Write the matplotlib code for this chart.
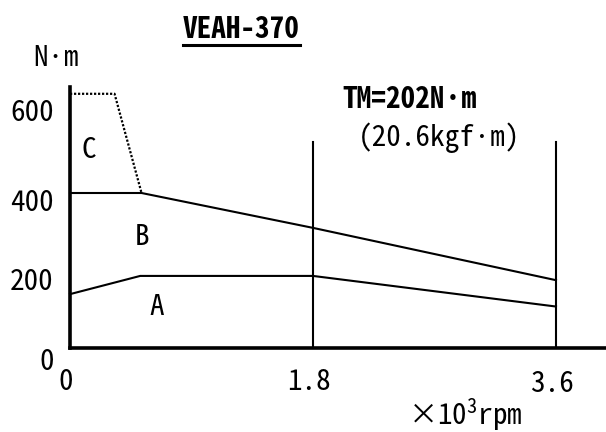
import matplotlib
matplotlib.use("Agg")
import matplotlib.pyplot as plt

# ---- data ----
rpm_A = [0, 0.52, 1.8, 3.6]
torque_A = [139, 186, 186, 107]
rpm_B = [0, 0.53, 1.8, 3.6]
torque_B = [400, 400, 310, 175]
rpm_C = [0, 0.33, 0.53]
torque_C = [656, 656, 400]
limit_rpm = [1.8, 3.6]
limit_top = 532
xtick_labels = ["0", "1.8", "3.6"]
ytick_labels = ["0", "200", "400", "600"]
title = "VEAH-370"
ylabel = "N·m"
xlabel = r"×10$^{3}$rpm"
tm_text = "TM=202N·m"
tm_sub = "(20.6kgf·m)"
region_labels = ["A", "B", "C"]

FONT = 'Noto Sans Mono CJK JP'
plt.rcParams['font.family'] = [FONT, 'DejaVu Sans']
plt.rcParams['mathtext.fontset'] = 'custom'
plt.rcParams['mathtext.rm'] = FONT
plt.rcParams['mathtext.it'] = FONT
plt.rcParams['mathtext.default'] = 'regular'

W, H = 606, 432
fig = plt.figure(figsize=(W / 100, H / 100), dpi=100)
px0, py0 = 70, 348          # axis origin in pixels (from top)
sx, sy = 135.0, 0.3875      # px per unit
ax = fig.add_axes([px0 / W, (H - py0) / H, (W - px0) / W, (py0 - 87) / H])
ax.set_xlim(0, (W - px0) / sx)
ax.set_ylim(0, (py0 - 87) / sy)
for s in ["top", "right"]:
    ax.spines[s].set_visible(False)
for s in ["left", "bottom"]:
    ax.spines[s].set_linewidth(2.6)
    ax.spines[s].set_capstyle("projecting")
ax.set_xticks([])
ax.set_yticks([])

lw = 1.5
ax.plot(rpm_A, torque_A, color="black", lw=lw, clip_on=False)
ax.plot(rpm_B, torque_B, color="black", lw=lw, clip_on=False)
ax.plot(rpm_C, torque_C, color="black", lw=1.6, linestyle=(0, (1, 0.8)), clip_on=False)
for r in limit_rpm:
    ax.plot([r, r], [0, limit_top], color="black", lw=lw)

fs = 21
# y tick labels
ylab_pos = [-36, 170, 374, 606]
for lab, yp in zip(ytick_labels, ylab_pos):
    ax.text(-0.12, yp, lab, ha="right", va="center", fontsize=fs, clip_on=False)
# x tick labels
xlab_pos = [(-0.033, -88), (1.77, -88), (3.57, -93)]
for lab, (xp, yp) in zip(xtick_labels, xlab_pos):
    ax.text(xp, yp, lab, ha="center", va="center", fontsize=fs, clip_on=False)
ax.text(2.93, -171, xlabel, ha="center", va="center", fontsize=fs, clip_on=False)

ax.text(-0.104, 748, ylabel, ha="center", va="center", fontsize=fs, clip_on=False)
t = ax.text(1.27, 823, title, ha="center", va="center", fontsize=21, fontweight="bold", clip_on=False)

ax.text(2.02, 640, tm_text, ha="left", va="center", fontsize=fs, fontweight="bold")
ax.text(2.13, 542, tm_sub, ha="left", va="center", fontsize=fs)

ax.text(0.64, 106, region_labels[0], ha="center", va="center", fontsize=fs)
ax.text(0.53, 286, region_labels[1], ha="center", va="center", fontsize=fs)
ax.text(0.14, 511, region_labels[2], ha="center", va="center", fontsize=fs)

# underline title
fig.canvas.draw()
bb = t.get_window_extent()
uy = bb.y0 - 1
fig.add_artist(plt.Line2D([bb.x0 / W, bb.x1 / W], [uy / H, uy / H], color="black", lw=2.2))

fig.savefig("out.png", dpi=100)
